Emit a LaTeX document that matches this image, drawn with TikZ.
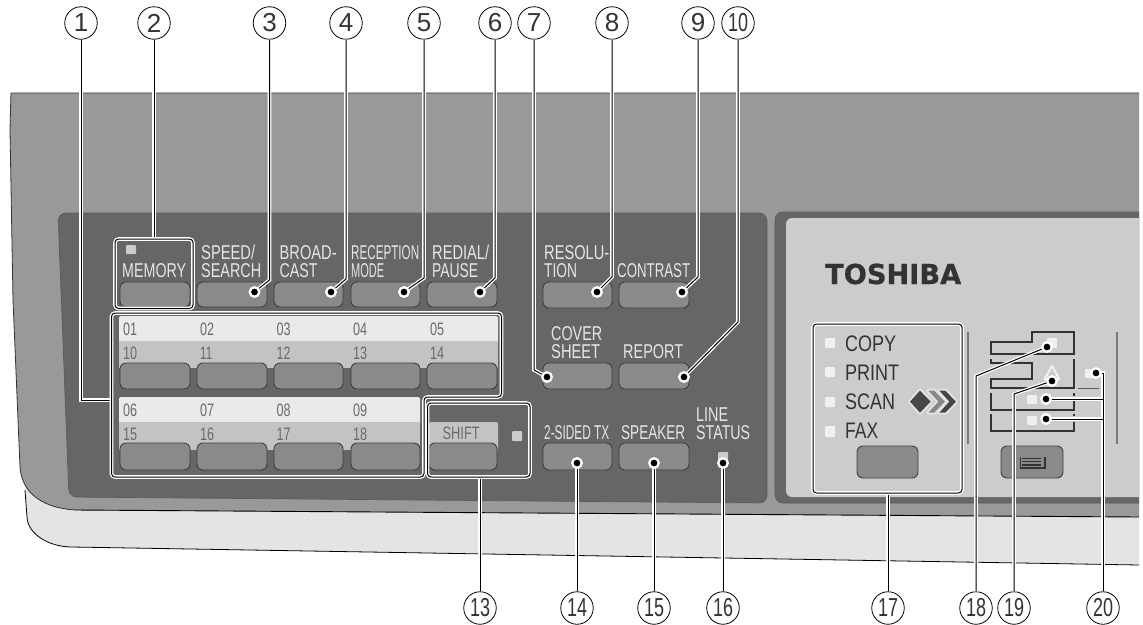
\documentclass[tikz,border=0pt]{standalone}
\usepackage{graphicx}
\usepackage{fontspec}
\setmainfont{Liberation Sans}
\newfontfamily\logofont[BoldFeatures={FakeBold=0.8}]{DejaVu Sans}
\definecolor{bodyc}{HTML}{999999}
\definecolor{panelc}{HTML}{666666}
\definecolor{lipc}{HTML}{E4E4E4}
\definecolor{facec}{HTML}{CCCCCC}
\definecolor{btnc}{HTML}{8A8A8A}
\definecolor{btnl}{HTML}{3F3F3F}
\definecolor{bandl}{HTML}{EAEAE8}
\definecolor{bandm}{HTML}{C4C3C1}
\definecolor{inkd}{HTML}{333333}
\definecolor{inkg}{HTML}{6A6A6A}
\definecolor{inkl}{HTML}{E6E6E6}
\definecolor{ledc}{HTML}{F0F0F0}
\newcommand{\rb}[2]{\resizebox{#1pt}{\height}{#2}}
\newcommand{\btn}[4]{\draw[buttonface] (#1,#2) rectangle (#3,#4);}
\newcommand{\led}[4]{\fill[ledface] (#1,#2) rectangle (#3,#4);}
\tikzset{
 callnum/.style={circle,draw=black,line width=0.8pt,fill=white,minimum size=32.5pt,inner sep=0pt,font=\fontsize{26}{26}\selectfont,text=inkd},
 callout/.style={preaction={draw,white,line width=3.6pt},draw=black,line width=1pt},
 groupbox/.style={callout,rounded corners=3.5pt},
 dotend/.style={circle,fill=black,draw=white,line width=2.3pt,minimum size=9.5pt,inner sep=0pt},
 buttonface/.style={fill=btnc,draw=btnl,line width=0.9pt,rounded corners=6pt},
 ledface/.style={fill=ledc,rounded corners=1pt},
 lab/.style={anchor=base west,inner sep=0pt,align=left,text=inkl,font=\fontsize{20}{18}\selectfont},
 num/.style={anchor=base west,inner sep=0pt,text=inkg,font=\fontsize{18}{18}\selectfont},
 modelab/.style={anchor=base west,inner sep=0pt,text=inkd,font=\fontsize{22.5}{22}\selectfont},
 icon/.style={draw=inkd,line width=2pt,line cap=butt,line join=miter},
 x=1pt,y=-1pt
}
\begin{document}
\begin{tikzpicture}
\useasboundingbox (0,0) rectangle (1143,624);
\fill[white] (0,0) rectangle (1143,624);
% lip
\fill[lipc] (25,483) -- (27,517) .. controls (28,535) and (50,547) .. (72,547) -- (1139,565) -- (1139,500) -- cycle;
\draw[black,line width=0.8pt] (25,490) -- (27,517) .. controls (28,535) and (50,547) .. (72,547) -- (1139,565);
% body
\fill[bodyc] (11,93) -- (1139,93) -- (1139,517) -- (75,510) .. controls (45,508) and (22,495) .. (20,467) -- (13,300) -- (10,130) .. controls (10.5,110) .. (11,93) -- cycle;
\draw[inkd,line width=0.8pt] (1139,93) -- (11,93) .. controls (10.5,110) .. (10,130) -- (13,300) -- (20,467) .. controls (22,495) and (45,508) .. (75,510);
\draw[black,line width=0.9pt] (75,510) -- (1139,517);
% panel 1
\draw[fill=panelc,draw=inkd!80,line width=0.7pt,rounded corners=8pt] (58,213) -- (767,213) -- (767,503) -- (69,497) -- cycle;
% panel 2 and face
\begin{scope}
\clip (0,0) rectangle (1139,624);
\draw[fill=panelc,draw=inkd!80,line width=0.7pt,rounded corners=8pt] (775,212) -- (1170,212) -- (1170,503) -- (775,503) -- cycle;
\fill[facec,rounded corners=6pt] (786,218) rectangle (1170,497);
\end{scope}
% bands
\fill[bandl,rounded corners=2pt] (119,316) -- (498,316) -- (498,345) -- (119,345) -- cycle;
\fill[bandm] (119,341) rectangle (498,368);
\fill[bandl,rounded corners=2pt] (119,397) -- (420,397) -- (420,426) -- (119,426) -- cycle;
\fill[bandm] (119,422) rectangle (420,450);
\fill[bandm,rounded corners=2pt] (429,422) -- (498,422) -- (498,450) -- (429,450) -- cycle;
% buttons
\btn{120}{282}{190}{307}\btn{197}{282}{267}{307}\btn{274}{282}{343}{307}\btn{351}{282}{420}{307}\btn{427}{282}{497}{307}
\btn{120}{363}{190}{389}\btn{197}{363}{267}{389}\btn{274}{363}{343}{389}\btn{351}{363}{420}{389}\btn{427}{363}{497}{389}
\btn{120}{443}{190}{470}\btn{197}{443}{267}{470}\btn{274}{443}{343}{470}\btn{351}{443}{420}{470}\btn{429}{443}{497}{470}
\btn{543}{282}{612}{308}\btn{619}{282}{689}{308}
\btn{543}{363}{612}{389}\btn{619}{363}{689}{389}
\btn{543}{443}{612}{470}\btn{619}{443}{689}{470}
\btn{857}{446}{918}{478}\btn{1001}{446}{1063}{478}
% button icon
\draw[inkd,line width=1.3pt] (1022,458.5) -- (1041,458.5) (1022,461.7) -- (1041,461.7) (1022,464.9) -- (1041,464.9);
\draw[inkd,line width=1.2pt] (1020.5,457) -- (1020.5,468) -- (1045,468) -- (1045,457);
% leds
\fill[facec,rounded corners=1pt] (126,245) rectangle (136,254);
\fill[facec,rounded corners=1pt] (512,431) rectangle (522,441);
\fill[facec,rounded corners=1pt] (718,452) rectangle (728,463);
\led{825}{338}{835}{348}\led{825}{367}{835}{377}\led{825}{397}{835}{407}\led{825}{426}{835}{437}
\led{1047}{338}{1057}{348}\led{1027}{395}{1037}{404}\led{1027}{416}{1037}{425}\led{1085}{369}{1098}{378}
% separators
\draw[inkg!90,line width=2.6pt] (968,332) -- (968,444) (1117,332) -- (1117,444);
% copier icon
\draw[icon] (990.7,341.7) -- (1031.7,341.7) -- (1031.7,332) -- (1074,332) -- (1074,354) -- (990.7,354) -- cycle;
\draw[icon] (990.7,358.5) -- (990.7,363.3) -- (1031.7,363.3) -- (1031.7,379) -- (990.7,379) -- (990.7,388.3) -- (1074,388.3) -- (1074,359);
\draw[icon] (990.7,393.3) -- (990.7,410) -- (1074,410) -- (1074,401);
\draw[icon] (1074,393.3) -- (1074,395.7);
\draw[icon] (990.7,414.3) -- (990.7,431) -- (1074,431) -- (1074,421.7);
\draw[icon] (1074,414.3) -- (1074,416.3);
\draw[inkd!80,line width=1pt] (1078,388.5) -- (1099,388.5);
\draw[fill=facec,draw=ledc,line width=2pt,line join=round] (1052,366) -- (1059.5,379) -- (1044.5,379) -- cycle;
% chevrons
\begin{scope}[shift={(800,300)},x=0.3333pt,y=-0.3333pt,line join=round]
\fill[draw=lipc,line width=4pt,fill=lipc] (330,305) -- (360,272) -- (392,305) -- (360,338) -- cycle;
\fill[draw=lipc,line width=4pt,fill=lipc] (385,272) -- (403,272) -- (435,305) -- (403,338) -- (385,338) -- (415,305) -- cycle;
\fill[draw=lipc,line width=4pt,fill=lipc] (418,272) -- (436,272) -- (468,305) -- (436,338) -- (418,338) -- (448,305) -- cycle;
\fill[inkd!90] (330,305) -- (360,272) -- (392,305) -- (360,338) -- cycle;
\fill[inkg!80] (385,272) -- (403,272) -- (435,305) -- (403,338) -- (385,338) -- (415,305) -- cycle;
\fill[inkd!90] (418,272) -- (436,272) -- (468,305) -- (436,338) -- (418,338) -- (448,305) -- cycle;
\end{scope}
% labels
\node[lab] (tmem) at (122,277) {\rb{64}{MEMORY}};
\node[lab] (tspeed) at (201,277) {\rb{54}{SPEED/}\\\rb{60}{SEARCH}};
\node[lab] (tbroad) at (279.5,277) {\rb{57}{BROAD-}\\\rb{38}{CAST}};
\node[lab] (trecep) at (351,277) {\rb{68}{RECEPTION}\\\rb{33}{MODE}};
\node[lab] (tredial) at (432,277) {\rb{57}{REDIAL/}\\\rb{46}{PAUSE}};
\node[lab] (tresol) at (544,277) {\rb{65}{RESOLU-}\\\rb{33}{TION}};
\node[lab] (tcontr) at (617,277) {\rb{73}{CONTRAST}};
\node[lab] (tcover) at (551,358) {\rb{51}{COVER}\\\rb{49}{SHEET}};
\node[lab] (trep) at (623,358) {\rb{60}{REPORT}};
\node[lab] (ttwo) at (544,439) {\rb{65}{2-SIDED TX}};
\node[lab] (tspk) at (621,439) {\rb{64}{SPEAKER}};
\node[lab] (tline) at (696,439) {\rb{32}{LINE}\\\rb{54}{STATUS}};
\node[num] (n01) at (123,335) {\rb{14}{01}};
\node[num] (n02) at (200,335) {\rb{14}{02}};
\node[num] (n03) at (276.5,335) {\rb{14}{03}};
\node[num] (n04) at (353,335) {\rb{14}{04}};
\node[num] (n05) at (430,335) {\rb{14}{05}};
\node[num] (n10) at (123,359) {\rb{14}{10}};
\node[num] (n11) at (200,359) {\rb{12}{11}};
\node[num] (n12) at (276.5,359) {\rb{14}{12}};
\node[num] (n13) at (353,359) {\rb{14}{13}};
\node[num] (n14) at (430,359) {\rb{14}{14}};
\node[num] (n06) at (123,416) {\rb{14}{06}};
\node[num] (n07) at (200,416) {\rb{14}{07}};
\node[num] (n08) at (276.5,416) {\rb{14}{08}};
\node[num] (n09) at (353,416) {\rb{14}{09}};
\node[num] (n15) at (123,440) {\rb{14}{15}};
\node[num] (n16) at (200,440) {\rb{14}{16}};
\node[num] (n17) at (276.5,440) {\rb{14}{17}};
\node[num] (n18) at (353,440) {\rb{14}{18}};
\node[num] (nsh) at (442.5,439) {\rb{37}{SHIFT}};
\node[modelab] (tcopy) at (845,351) {\rb{51}{COPY}};
\node[modelab] (tprint) at (845,380) {\rb{54}{PRINT}};
\node[modelab] (tscan) at (845,409) {\rb{50}{SCAN}};
\node[modelab] (tfax) at (845,438) {\rb{33}{FAX}};
\node[anchor=base west,inner sep=0pt,text=inkd,font=\logofont\bfseries\fontsize{27.5}{28}\selectfont] (logo) at (825,284) {\rb{136}{TOSHIBA}};
% callout circles
\node[callnum] (c1) at (81,23) {1};
\node[callnum] (c2) at (154,23) {2};
\node[callnum] (c3) at (269.5,23) {3};
\node[callnum] (c4) at (346,23) {4};
\node[callnum] (c5) at (424,23) {5};
\node[callnum] (c6) at (495,23) {6};
\node[callnum] (c7) at (534,23) {7};
\node[callnum] (c8) at (612,23) {8};
\node[callnum] (c9) at (698,23) {9};
\node[callnum] (c10) at (738,23) {\rb{20}{10}};
\node[callnum] (c13) at (480,608) {\rb{20}{13}};
\node[callnum] (c14) at (577,608) {\rb{20}{14}};
\node[callnum] (c15) at (654,608) {\rb{20}{15}};
\node[callnum] (c16) at (723,608) {\rb{20}{16}};
\node[callnum] (c17) at (888,608) {\rb{20}{17}};
\node[callnum] (c18) at (976,608) {\rb{20}{18}};
\node[callnum] (c19) at (1014,608) {\rb{20}{19}};
\node[callnum] (c20) at (1103,608) {\rb{20}{20}};
% coordinates
\coordinate (g1) at (111.5,400);
\coordinate (g2) at (154,239);
\coordinate (g13) at (480,477);
\coordinate (g17) at (888,493);
\coordinate (j20a) at (1103,373);
\coordinate (j20b) at (1103,399);
\coordinate (j20c) at (1103,419);
% connectors
\draw[callout] (c1.south) -- (81,400) -- (g1);
\draw[callout] (c2.south) -- (g2);
\draw[callout] (c3.south) -- (269.5,280) -- (254.5,292);
\draw[callout] (c4.south) -- (346,279) -- (331,292);
\draw[callout] (c5.south) -- (424,278) -- (404,292);
\draw[callout] (c6.south) -- (495,278) -- (480,292);
\draw[callout] (c7.south) -- (534,370) -- (547,377);
\draw[callout] (c8.south) -- (612,277) -- (597,292);
\draw[callout] (c9.south) -- (698,277) -- (682,292);
\draw[callout] (c10.south) -- (738,322) -- (684,377);
\draw[callout] (c13.north) -- (g13);
\draw[callout] (c14.north) -- (577,463);
\draw[callout] (c15.north) -- (654,463);
\draw[callout] (c16.north) -- (723,463);
\draw[callout] (c17.north) -- (g17);
\draw[callout] (c18.north) -- (976,376) -- (1047,347);
\draw[callout] (c19.north) -- (1014,394) -- (1052,381);
\draw[callout] (c20.north) -- (j20a) -- (1096,373);
\draw[callout] (j20b) -- (1046,399);
\draw[callout] (j20c) -- (1046,419);
% group boxes
\draw[groupbox] (111.5,313) -- (501.5,313) -- (501.5,397) -- (424,397) -- (424,477) -- (111.5,477) -- cycle;
\draw[groupbox] (115,239) rectangle (193,308.5);
\draw[groupbox] (427.5,403) rectangle (530,477);
\draw[groupbox] (813,324) rectangle (962,493);
% end dots
\node[dotend] (d3) at (254.5,292) {};
\node[dotend] (d4) at (331,292) {};
\node[dotend] (d5) at (404,292) {};
\node[dotend] (d6) at (480,292) {};
\node[dotend] (d7) at (547,377) {};
\node[dotend] (d8) at (597,292) {};
\node[dotend] (d9) at (682,292) {};
\node[dotend] (d10) at (684,377) {};
\node[dotend] (d14) at (577,463) {};
\node[dotend] (d15) at (654,463) {};
\node[dotend] (d16) at (723,463) {};
\node[dotend] (d18) at (1047,347) {};
\node[dotend] (d19) at (1052,381) {};
\node[dotend] (d20a) at (1096,373) {};
\node[dotend] (d20b) at (1046,399) {};
\node[dotend] (d20c) at (1046,419) {};
\end{tikzpicture}
\end{document}
